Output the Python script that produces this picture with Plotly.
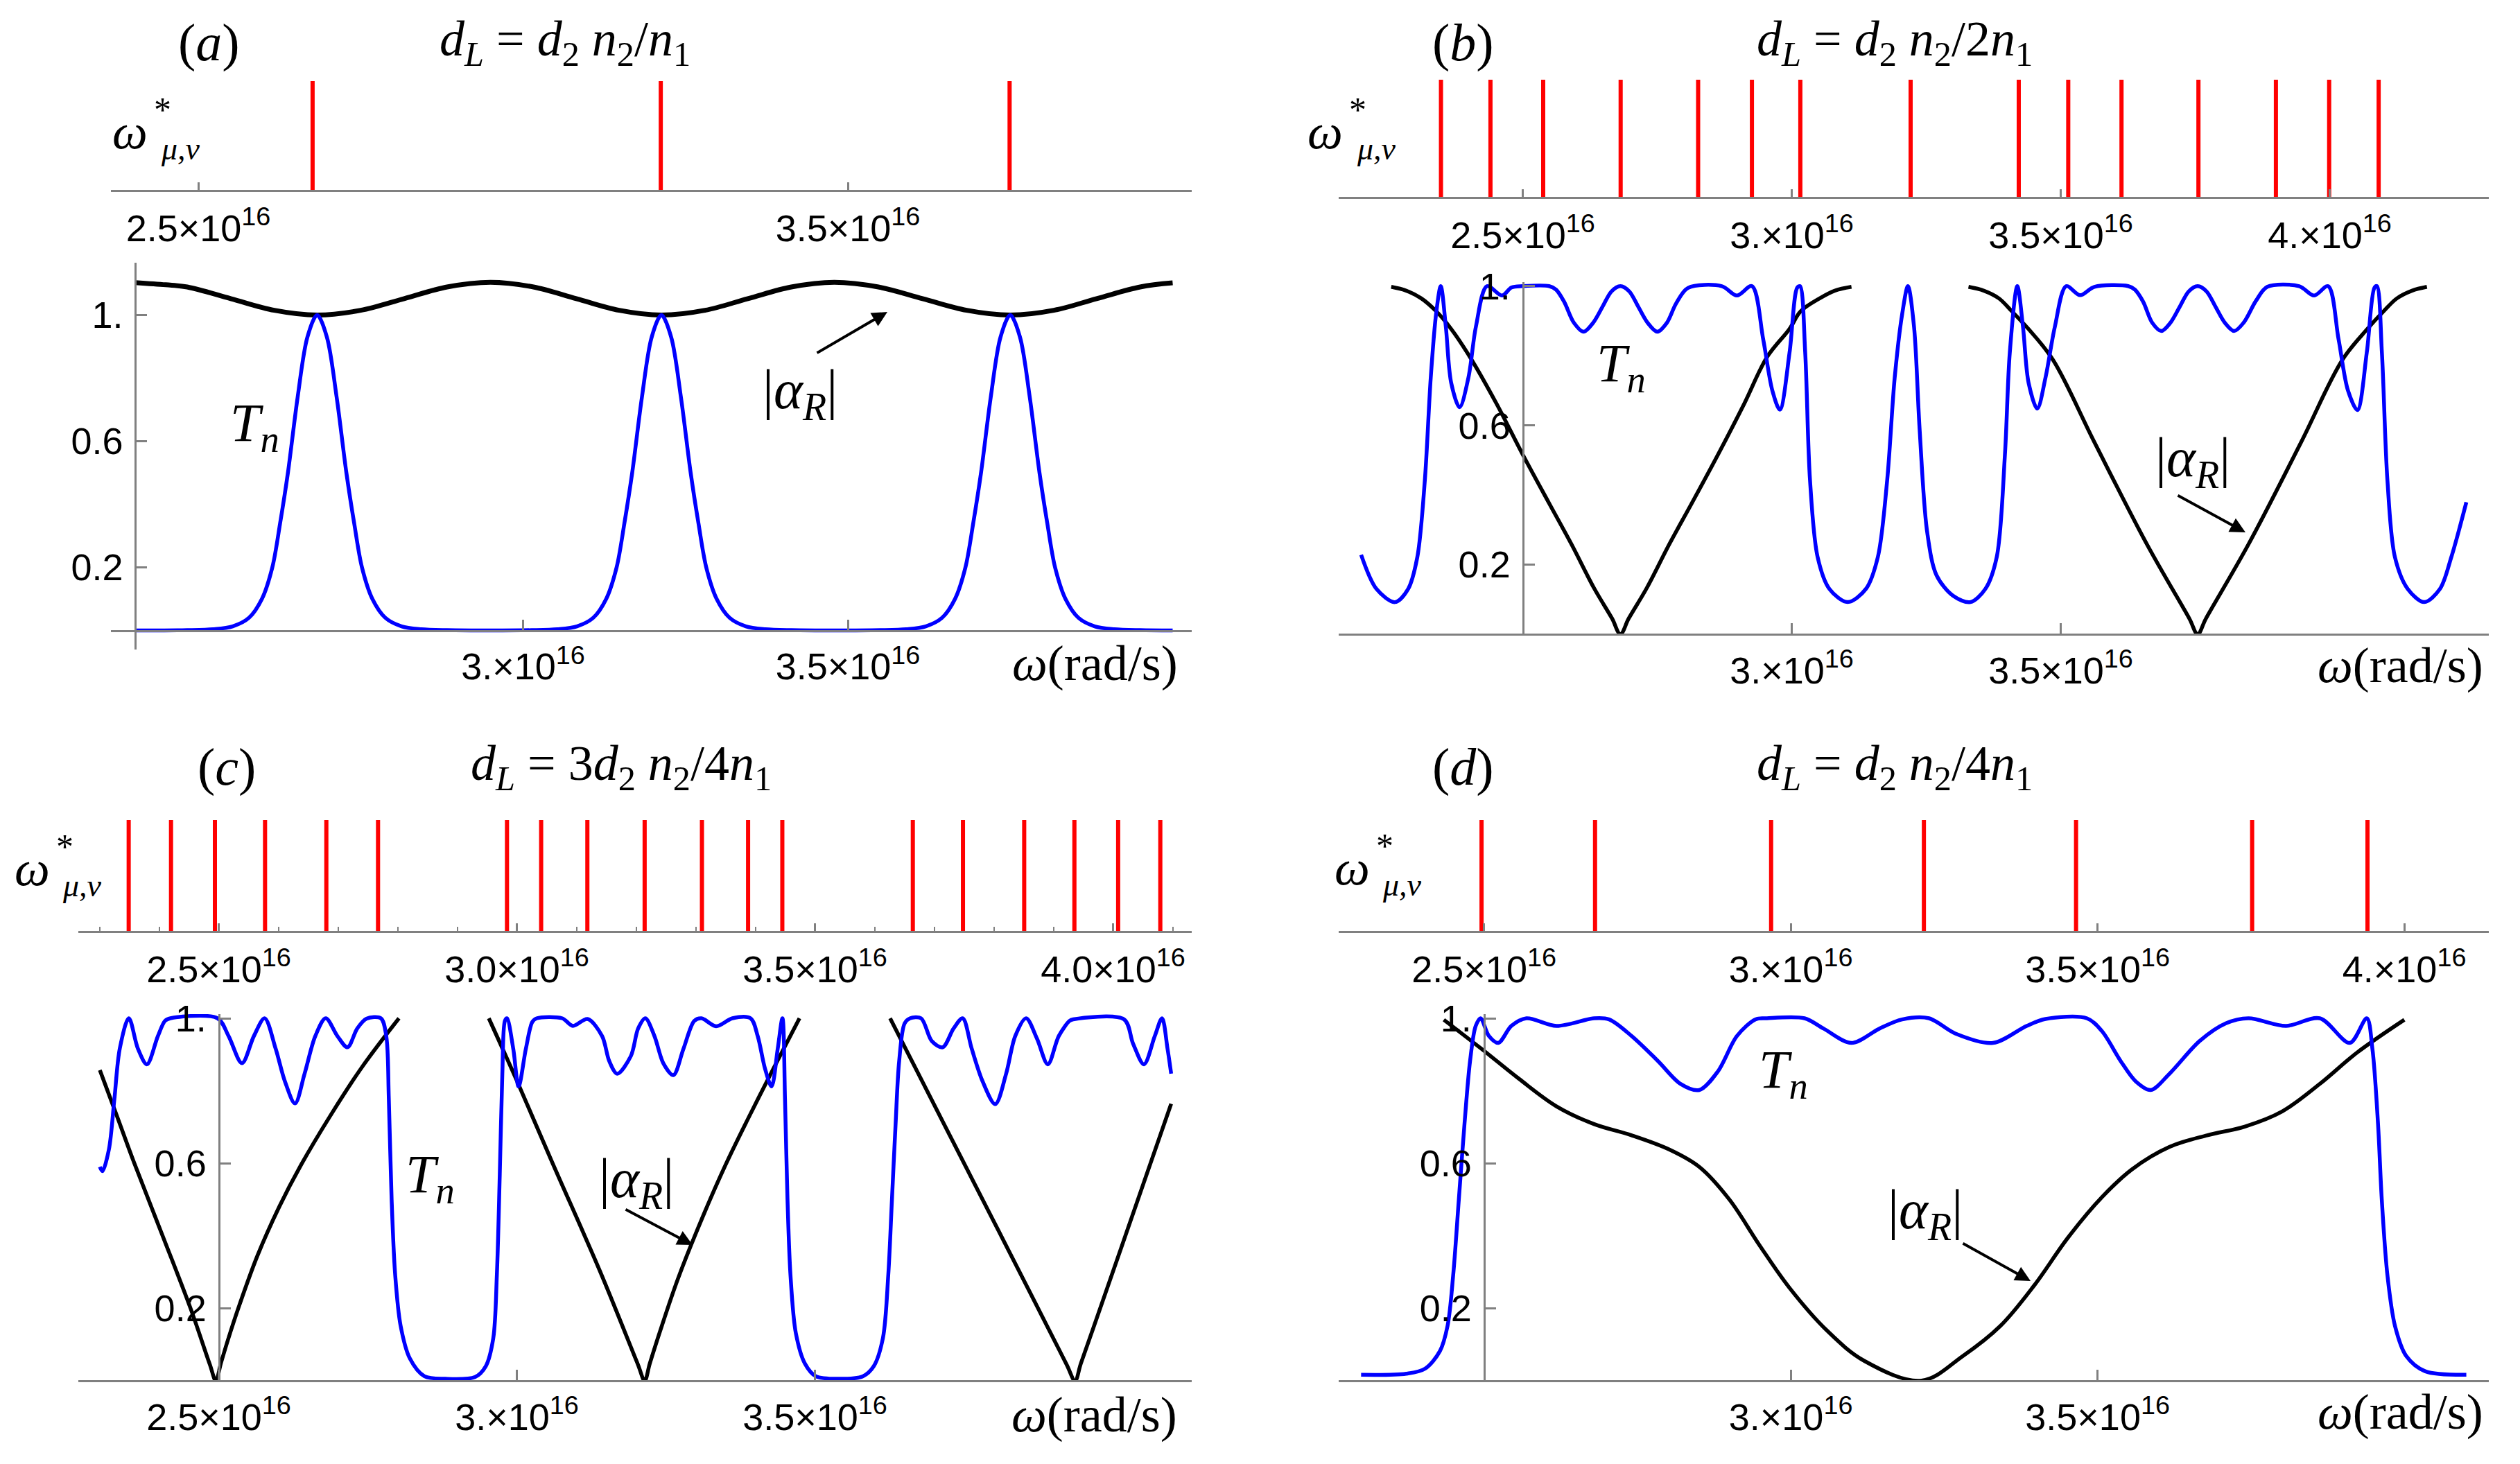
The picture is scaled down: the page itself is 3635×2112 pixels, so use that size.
import plotly.graph_objects as go

# ---------------- data (omega in units of 1e16 rad/s) ----------------
# panel (a)  d_L = d2 n2/n1
A_red = [2.676, 3.212, 3.749]
A_blue_x = [2.403, 2.44, 2.483, 2.523, 2.553, 2.578, 2.598, 2.614, 2.626, 2.638, 2.653, 2.668, 2.683,
            2.698, 2.713, 2.728, 2.740, 2.752, 2.768, 2.788, 2.813, 2.843, 2.883, 2.95,
            3.013, 3.053, 3.083, 3.108, 3.128, 3.144, 3.156, 3.168, 3.183, 3.198, 3.213,
            3.228, 3.243, 3.258, 3.270, 3.282, 3.298, 3.318, 3.343, 3.373, 3.413, 3.48,
            3.550, 3.590, 3.620, 3.645, 3.665, 3.681, 3.693, 3.705, 3.720, 3.735, 3.750,
            3.765, 3.780, 3.795, 3.807, 3.819, 3.835, 3.855, 3.880, 3.910, 3.950, 4.0]
A_blue_y = [0.0, 0.0, 0.001, 0.004, 0.013, 0.04, 0.1, 0.2, 0.34, 0.5, 0.74, 0.93, 1.0,
            0.93, 0.74, 0.5, 0.34, 0.2, 0.1, 0.04, 0.013, 0.004, 0.001, 0.0,
            0.001, 0.004, 0.013, 0.04, 0.1, 0.2, 0.34, 0.5, 0.74, 0.93, 1.0,
            0.93, 0.74, 0.5, 0.34, 0.2, 0.1, 0.04, 0.013, 0.004, 0.001, 0.0,
            0.001, 0.004, 0.013, 0.04, 0.1, 0.2, 0.34, 0.5, 0.74, 0.93, 1.0,
            0.93, 0.74, 0.5, 0.34, 0.2, 0.1, 0.04, 0.013, 0.004, 0.001, 0.0]
A_black_x = [2.403, 2.45, 2.483, 2.55, 2.617, 2.683, 2.75, 2.817, 2.883, 2.950, 3.016, 3.082, 3.148,
             3.213, 3.28, 3.346, 3.413, 3.479, 3.547, 3.615, 3.683, 3.750, 3.817, 3.883, 3.95, 4.0]
A_black_y = [1.103, 1.096, 1.089, 1.052, 1.015, 1.0, 1.015, 1.052, 1.089, 1.104, 1.089, 1.052, 1.015,
             1.0, 1.015, 1.052, 1.089, 1.104, 1.089, 1.052, 1.015, 1.0, 1.015, 1.052, 1.089, 1.102]

# panel (b)  d_L = d2 n2/2n1
B_red = [2.348, 2.440, 2.538, 2.682, 2.826, 2.926, 3.016, 3.221, 3.422, 3.514, 3.613, 3.756, 3.900, 3.999, 4.091]
B_blue_x = [2.1996, 2.228, 2.2624, 2.287, 2.304, 2.318, 2.329, 2.339, 2.3476, 2.357, 2.367, 2.3826, 2.399,
            2.413, 2.4336, 2.4615, 2.479, 2.500, 2.549, 2.562, 2.577, 2.595, 2.613, 2.631, 2.648, 2.665,
            2.6815, 2.698, 2.715, 2.732, 2.750, 2.768, 2.785, 2.8072, 2.870, 2.898, 2.926, 2.947, 2.964,
            2.978, 2.996, 3.010, 3.0154, 3.025, 3.034, 3.0482, 3.070, 3.104, 3.138, 3.160, 3.1774, 3.1914,
            3.2054, 3.216,
            3.2273, 3.2377, 3.2517, 3.2692, 3.30, 3.332, 3.36, 3.381, 3.3963, 3.4054, 3.4193, 3.4298,
            3.4403, 3.4564, 3.4717, 3.4892, 3.5102, 3.536, 3.5625, 3.6254, 3.638, 3.6533, 3.670, 3.687,
            3.704, 3.721, 3.738, 3.7546, 3.771, 3.788, 3.805, 3.8224, 3.840, 3.863, 3.884, 3.9432, 3.971,
            3.997, 4.0165, 4.034, 4.0515, 4.069, 4.083, 4.0878, 4.097, 4.1073, 4.1213, 4.145, 4.1758,
            4.205, 4.226, 4.254]
B_blue_y = [0.228, 0.13, 0.092, 0.13, 0.221, 0.442, 0.737, 0.921, 1.0, 0.884, 0.722, 0.652, 0.737,
            0.884, 1.0, 0.973, 0.996, 1.0, 1.0, 0.99, 0.955, 0.895, 0.869, 0.895, 0.94, 0.985,
            1.0, 0.985, 0.94, 0.895, 0.869, 0.895, 0.95, 0.995, 1.0, 0.973, 1.0, 0.847, 0.70,
            0.645, 0.81, 0.995, 1.0, 0.81, 0.442, 0.221, 0.13, 0.092, 0.13, 0.221, 0.442, 0.737,
            0.921, 1.0,
            0.884, 0.589, 0.294, 0.169, 0.11, 0.092, 0.13, 0.221, 0.516, 0.81, 1.0, 0.884,
            0.722, 0.648, 0.737, 0.884, 1.0, 0.974, 0.998, 1.0, 0.99, 0.955, 0.895, 0.871,
            0.895, 0.94, 0.985, 1.0, 0.985, 0.94, 0.895, 0.871, 0.895, 0.958, 0.998, 1.0, 0.973,
            1.0, 0.847, 0.70, 0.644, 0.81, 0.995, 1.0, 0.81, 0.442, 0.221, 0.13, 0.092,
            0.13, 0.221, 0.379]
B_black_x = [2.2555, 2.2834, 2.3113, 2.339, 2.367, 2.402, 2.451, 2.5, 2.549, 2.5907, 2.6326, 2.666, 2.6815,
             2.697, 2.7304, 2.7723, 2.8142, 2.863, 2.912, 2.954, 2.9958, 3.0168, 3.052, 3.08, 3.111, None,
             3.3286, 3.357, 3.385, 3.409, 3.44, 3.4857, 3.5625, 3.6603, 3.739, 3.7546, 3.770, 3.849, 3.947,
             4.0235, 4.07, 4.1004, 4.125, 4.153, 4.1807]
B_black_y = [0.998, 0.987, 0.965, 0.928, 0.877, 0.796, 0.663, 0.516, 0.376, 0.258, 0.132, 0.045, 0.0,
             0.045, 0.132, 0.258, 0.376, 0.516, 0.663, 0.796, 0.877, 0.928, 0.965, 0.987, 0.998, None,
             0.998, 0.987, 0.965, 0.928, 0.877, 0.788, 0.552, 0.258, 0.045, 0.0, 0.045, 0.258, 0.552,
             0.788, 0.877, 0.928, 0.965, 0.987, 0.998]

# panel (c)  d_L = 3 d2 n2/4n1
C_red = [2.349, 2.420, 2.4936, 2.5777, 2.6805, 2.7672, 2.9835, 3.0408, 3.1183, 3.2144, 3.3105,
         3.3879, 3.4453, 3.6642, 3.7483, 3.8510, 3.9352, 4.0086, 4.0793]
C_blue_x = [2.3006, 2.305, 2.3158, 2.325, 2.334, 2.3492, 2.3645, 2.3796, 2.398, 2.41, 2.419, 2.498,
            2.5165, 2.539, 2.559, 2.577, 2.5955, 2.611, 2.628, 2.644, 2.662, 2.6795, 2.699, 2.716,
            2.7324, 2.748, 2.772, 2.781, 2.7853, 2.790, 2.796, 2.805, 2.8206, 2.845, 2.88, 2.93,
            2.948, 2.9605, 2.9665, 2.9714, 2.9757, 2.98, 2.9835, 2.994, 3.003, 3.0152, 3.026, 3.0335,
            3.076, 3.094, 3.1186, 3.143, 3.155, 3.1685, 3.1913, 3.2035, 3.2156, 3.2308, 3.246, 3.2625,
            3.2795, 3.2977, 3.3099, 3.3342, 3.3616, 3.392, 3.404, 3.4163, 3.4273, 3.4376, 3.4455,
            3.4498, 3.454, 3.459, 3.468, 3.4832, 3.5015, 3.54, 3.5805, 3.5988, 3.614, 3.623, 3.6292,
            3.6353, 3.6413, 3.6505, 3.6596, 3.678, 3.696, 3.7143, 3.7326, 3.7478, 3.763, 3.7812,
            3.8025, 3.8207, 3.836, 3.8542, 3.8724, 3.8907, 3.909, 3.9272, 3.9333, 4.0184, 4.0336,
            4.0519, 4.0701, 4.0822, 4.0914, 4.0975]
C_blue_y = [0.59, 0.578, 0.638, 0.777, 0.916, 1.0, 0.916, 0.873, 0.951, 0.993, 1.0, 1.0,
            0.951, 0.876, 0.951, 1.0, 0.916, 0.826, 0.765, 0.847, 0.951, 1.0, 0.951, 0.92,
            0.972, 0.999, 1.0, 0.951, 0.777, 0.5, 0.291, 0.152, 0.061, 0.012, 0.005, 0.01,
            0.04, 0.117, 0.291, 0.569, 0.847, 0.993, 1.0, 0.916, 0.812, 0.916, 0.99, 1.0,
            1.0, 0.979, 0.998, 0.951, 0.882, 0.847, 0.896, 0.972, 1.0, 0.951, 0.875, 0.843,
            0.916, 0.993, 1.0, 0.978, 1.0, 1.0, 0.951, 0.861, 0.812, 0.916, 1.0,
            0.777, 0.5, 0.291, 0.131, 0.047, 0.012, 0.005, 0.012, 0.04, 0.117, 0.291, 0.5,
            0.708, 0.882, 0.986, 1.0, 1.0, 0.937, 0.92, 0.972, 1.0, 0.916, 0.826,
            0.763, 0.847, 0.951, 1.0, 0.944, 0.873, 0.951, 0.993, 0.997, 0.997, 0.93,
            0.873, 0.951, 1.0, 0.916, 0.847]
C_black_x = [2.3006, 2.328, 2.3584, 2.407, 2.4526, 2.485, 2.4952, 2.5035, 2.515, 2.535, 2.565, 2.6016,
             2.638, 2.6868, 2.7415, 2.8023, None,
             2.953, 3.0, 3.06, 3.14, 3.203, 3.2144, 3.223, 3.24, 3.27, 3.31, 3.35, 3.39, 3.43, 3.4741, None,
             3.6261, 3.6778, 3.7386, 3.7995, 3.8603, 3.922, 3.9363, 3.946, 3.9758, 4.0123, 4.0549, 4.0975]
C_black_y = [0.857, 0.736, 0.6, 0.395, 0.2, 0.045, 0.0, 0.047, 0.11, 0.21, 0.345, 0.48,
             0.595, 0.73, 0.868, 1.0, None,
             1.0, 0.828, 0.6, 0.3, 0.045, 0.0, 0.047, 0.135, 0.28, 0.445, 0.595, 0.73, 0.86, 1.0, None,
             1.0, 0.833, 0.637, 0.441, 0.245, 0.045, 0.0, 0.047, 0.187, 0.36, 0.562, 0.764]

# panel (d)  d_L = d2 n2/4n1
D_red = [2.496, 2.681, 2.968, 3.217, 3.465, 3.752, 3.940]
D_blue_x = [2.2997, 2.3732, 2.4039, 2.4283, 2.4406, 2.4498, 2.459, 2.4682, 2.4773, 2.4865, 2.4945,
            2.508, 2.5233, 2.5447, 2.5692, 2.6182, 2.6794, 2.704, 2.7407, 2.7836, 2.8203, 2.8509,
            2.8815, 2.9122, 2.9428, 2.9612, 3.0224, 3.0531, 3.0989, 3.1449, 3.1816, 3.2253, 3.2682,
            3.3295, 3.3846, 3.4152, 3.4826, 3.507, 3.5377, 3.5622, 3.5867, 3.6173, 3.6663, 3.7092,
            3.746, 3.8072, 3.8623, 3.9113, 3.9388, 3.948, 3.9572, 3.9633, 3.9725, 3.9848, 4.0031,
            4.0338, 4.1011]
D_blue_y = [0.016, 0.019, 0.033, 0.082, 0.151, 0.291, 0.5, 0.708, 0.882, 0.979, 1.0,
            0.951, 0.932, 0.979, 1.0, 0.979, 1.0, 0.997, 0.951, 0.882, 0.819, 0.802,
            0.854, 0.951, 0.997, 1.0, 1.0, 0.972, 0.932, 0.972, 0.997, 1.0, 0.958,
            0.932, 0.979, 0.998, 1.0, 0.965, 0.882, 0.826, 0.802, 0.847, 0.937, 0.986,
            1.0, 0.979, 1.0, 0.932, 1.0, 0.916, 0.708, 0.5, 0.291, 0.151, 0.068,
            0.026, 0.016]
D_black_x = [2.4345, 2.4957, 2.557, 2.6182, 2.6794, 2.7407, 2.8019, 2.8509, 2.8999, 2.9489, 2.9979,
             3.0591, 3.1204, 3.2131, 3.2805, 3.3417, 3.3969, 3.452, 3.5071, 3.5561, 3.6173, 3.6786,
             3.7398, 3.8010, 3.8623, 3.9235, 4.0001]
D_black_y = [0.996, 0.916, 0.833, 0.757, 0.708, 0.677, 0.638, 0.59, 0.5, 0.374, 0.256,
             0.138, 0.054, 0.0, 0.068, 0.151, 0.263, 0.395, 0.506, 0.583, 0.645, 0.677,
             0.701, 0.743, 0.819, 0.906, 0.996]

# tick values / labels
A_top_ticks, A_top_text = [2.5, 3.5], ["2.5×10<sup>16</sup>", "3.5×10<sup>16</sup>"]
A_bot_ticks, A_bot_text = [3.0, 3.5], ["3.×10<sup>16</sup>", "3.5×10<sup>16</sup>"]
B_top_ticks, B_top_text = [2.5, 3.0, 3.5, 4.0], ["2.5×10<sup>16</sup>", "3.×10<sup>16</sup>", "3.5×10<sup>16</sup>", "4.×10<sup>16</sup>"]
B_bot_ticks, B_bot_text = [3.0, 3.5], ["3.×10<sup>16</sup>", "3.5×10<sup>16</sup>"]
C_top_ticks, C_top_text = [2.5, 3.0, 3.5, 4.0], ["2.5×10<sup>16</sup>", "3.0×10<sup>16</sup>", "3.5×10<sup>16</sup>", "4.0×10<sup>16</sup>"]
C_top_minor = [2.3, 2.4, 2.6, 2.7, 2.8, 2.9, 3.1, 3.2, 3.3, 3.4, 3.6, 3.7, 3.8, 3.9, 4.1]
C_bot_ticks, C_bot_text = [2.5, 3.0, 3.5], ["2.5×10<sup>16</sup>", "3.×10<sup>16</sup>", "3.5×10<sup>16</sup>"]
D_top_ticks, D_top_text = [2.5, 3.0, 3.5, 4.0], ["2.5×10<sup>16</sup>", "3.×10<sup>16</sup>", "3.5×10<sup>16</sup>", "4.×10<sup>16</sup>"]
D_bot_ticks, D_bot_text = [3.0, 3.5], ["3.×10<sup>16</sup>", "3.5×10<sup>16</sup>"]
Y_ticks, Y_text = [0.2, 0.6, 1.0], ["0.2", "0.6", "1."]

titles = {
    'a': "<i>d</i><sub><i>L</i></sub> = <i>d</i><sub>2</sub> <i>n</i><sub>2</sub>/<i>n</i><sub>1</sub>",
    'b': "<i>d</i><sub><i>L</i></sub> = <i>d</i><sub>2</sub> <i>n</i><sub>2</sub>/2<i>n</i><sub>1</sub>",
    'c': "<i>d</i><sub><i>L</i></sub> = 3<i>d</i><sub>2</sub> <i>n</i><sub>2</sub>/4<i>n</i><sub>1</sub>",
    'd': "<i>d</i><sub><i>L</i></sub> = <i>d</i><sub>2</sub> <i>n</i><sub>2</sub>/4<i>n</i><sub>1</sub>",
}

# ---------------- layout geometry (pixels of the 3635x2112 page) ----------------
W, H = 3635, 2112
def PX(x): return x / W
def PY(y): return 1 - y / H

GRAY = "#808080"
TICKFONT = dict(family="Liberation Sans, Arial, sans-serif", size=54, color="black")
SERIF = "Liberation Serif, DejaVu Serif, serif"

panels = [
    dict(key='a', red=A_red, bx=A_blue_x, by=A_blue_y, kx=A_black_x, ky=A_black_y, kw=7,
         p25=286, ppu=937, left=160, right=1719, y0=909.5, ypu=455, ytop=379, ybot=937, yax=195.3,
         sbot=274, stop=117, tt=A_top_ticks, ttx=A_top_text, bt=A_bot_ticks, btx=A_bot_text, minor=None,
         lab=(301, 61), title=(815, 61), om=(187, 190), star=(234, 158), sub=(260, 214),
         Tn=(367, 615), aR=(1154, 568), arrow=((1177, 510), (1280, 450)), wl=(1579, 957)),
    dict(key='b', red=B_red, bx=B_blue_x, by=B_blue_y, kx=B_black_x, ky=B_black_y, kw=5.5,
         p25=2196.5, ppu=776, left=1931, right=3590, y0=914.8, ypu=502, ytop=407, ybot=914.8, yax=2196.5,
         sbot=284, stop=115, tt=B_top_ticks, ttx=B_top_text, bt=B_bot_ticks, btx=B_bot_text, minor=None,
         lab=(2110, 61), title=(2733, 61), om=(1912, 190), star=(1959, 158), sub=(1985, 214),
         Tn=(2338, 529), aR=(3163, 666), arrow=((3140, 714), (3239, 768)), wl=(3462, 960)),
    dict(key='c', red=C_red, bx=C_blue_x, by=C_blue_y, kx=C_black_x, ky=C_black_y, kw=5.5,
         p25=315.5, ppu=860, left=112.5, right=1718.5, y0=1991.7, ypu=522.7, ytop=1463, ybot=1991.7, yax=315.5,
         sbot=1343, stop=1183, tt=C_top_ticks, ttx=C_top_text, bt=C_bot_ticks, btx=C_bot_text, minor=C_top_minor,
         lab=(327, 1106), title=(896, 1106), om=(46, 1253), star=(93, 1221), sub=(119, 1277),
         Tn=(620, 1699), aR=(918, 1706), arrow=((901, 1744), (999, 1796)), wl=(1578, 2041)),
    dict(key='d', red=D_red, bx=D_blue_x, by=D_blue_y, kx=D_black_x, ky=D_black_y, kw=5.5,
         p25=2140.6, ppu=885, left=1931, right=3590, y0=1991.7, ypu=522.7, ytop=1463, ybot=1991.7, yax=2140.6,
         sbot=1343, stop=1183, tt=D_top_ticks, ttx=D_top_text, bt=D_bot_ticks, btx=D_bot_text, minor=None,
         lab=(2110, 1106), title=(2733, 1106), om=(1950, 1252), star=(1997, 1220), sub=(2023, 1276),
         Tn=(2572, 1548), aR=(2777, 1751), arrow=((2830, 1793), (2929, 1848)), wl=(3462, 2037)),
]

fig = go.Figure()
layout = dict(width=W, height=H, margin=dict(l=0, r=0, t=0, b=0, pad=0, autoexpand=False), autosize=False,
              paper_bgcolor="white", plot_bgcolor="rgba(0,0,0,0)", showlegend=False)
annotations = []

for i, p in enumerate(panels):
    nm = 2 * i + 1          # main axes number
    ns = 2 * i + 2          # strip axes number
    xr = [2.5 + (p['left'] - p['p25']) / p['ppu'], 2.5 + (p['right'] - p['p25']) / p['ppu']]
    yr = [(p['y0'] - p['ybot']) / p['ypu'], (p['y0'] - p['ytop']) / p['ypu']]
    xdom = [PX(p['left']), PX(p['right'])]
    xa_m = 'xaxis' if nm == 1 else f'xaxis{nm}'
    ya_m = 'yaxis' if nm == 1 else f'yaxis{nm}'
    xa_s, ya_s = f'xaxis{ns}', f'yaxis{ns}'
    xr_m = 'x' if nm == 1 else f'x{nm}'
    yr_m = 'y' if nm == 1 else f'y{nm}'

    layout[xa_m] = dict(domain=xdom, range=xr, anchor='free', position=PY(p['y0']), automargin=False,
                        showline=True, linecolor=GRAY, linewidth=3, showgrid=False, zeroline=False,
                        ticks='inside', ticklen=15, tickwidth=2.5, tickcolor=GRAY,
                        tickmode='array', tickvals=p['bt'], ticktext=p['btx'], tickfont=TICKFONT,
                        ticklabelstandoff=4)
    layout[ya_m] = dict(domain=[PY(p['ybot']), PY(p['ytop'])], range=yr, anchor='free', automargin=False,
                        position=PX(p['yax']), showline=True, linecolor=GRAY, linewidth=3,
                        showgrid=False, zeroline=False, ticks='inside', ticklen=15, tickwidth=2.5,
                        tickcolor=GRAY, tickmode='array', tickvals=Y_ticks, ticktext=Y_text,
                        tickfont=TICKFONT, ticklabelstandoff=6)
    sx = dict(domain=xdom, range=xr, anchor=f'y{ns}', showline=True, linecolor=GRAY, linewidth=3,
              showgrid=False, zeroline=False, ticks='inside', ticklen=11, tickwidth=2.5, tickcolor=GRAY,
              tickmode='array', tickvals=p['tt'], ticktext=p['ttx'], tickfont=TICKFONT,
              ticklabelstandoff=6, automargin=False)
    if p['minor']:
        sx['minor'] = dict(tickmode='array', tickvals=p['minor'], ticks='inside', ticklen=6,
                           tickwidth=2, tickcolor=GRAY, showgrid=False)
    layout[xa_s] = sx
    layout[ya_s] = dict(domain=[PY(p['sbot']), PY(p['stop'])], range=[0, 1], visible=False,
                        anchor=f'x{ns}', automargin=False)

    rx, ry = [], []
    for v in p['red']:
        rx += [v, v, None]
        ry += [0, 1, None]
    fig.add_trace(go.Scatter(x=rx, y=ry, mode='lines', line=dict(color='#ff0000', width=6),
                             xaxis=f'x{ns}', yaxis=f'y{ns}', hoverinfo='skip'))
    fig.add_trace(go.Scatter(x=p['kx'], y=p['ky'], mode='lines', connectgaps=False,
                             line=dict(color='black', width=p['kw'], shape='spline', smoothing=1.0),
                             xaxis=xr_m, yaxis=yr_m))
    fig.add_trace(go.Scatter(x=p['bx'], y=p['by'], mode='lines',
                             line=dict(color='#0000ff', width=5.5, shape='spline', smoothing=0.9),
                             xaxis=xr_m, yaxis=yr_m))

    def ann(pos, text, size, **kw):
        d = dict(x=PX(pos[0]), y=PY(pos[1]), xref='paper', yref='paper', text=text, showarrow=False,
                 font=dict(family=SERIF, size=size, color='black'), xanchor='center', yanchor='middle')
        d.update(kw)
        annotations.append(d)

    ann(p['lab'], f"(<i>{p['key']}</i>)", 76)
    ann(p['title'], titles[p['key']], 72)
    ann(p['om'], "<i>ω</i>", 72)
    ann(p['star'], "*", 50)
    ann(p['sub'], "<i>μ,ν</i>", 46)
    ann(p['Tn'], "<i>T<sub>n</sub></i>", 78)
    ann(p['aR'], "|<i>α<sub>R</sub></i>|", 80)
    ann(p['wl'], "<i>ω</i>(rad/s)", 72)
    (tx, ty), (hx, hy) = p['arrow']
    annotations.append(dict(x=PX(hx), y=PY(hy), xref='paper', yref='paper', text='', showarrow=True,
                            ax=tx - hx, ay=ty - hy, axref='pixel', ayref='pixel', arrowhead=2,
                            arrowsize=1.1, arrowwidth=4, arrowcolor='black', standoff=0))

layout['annotations'] = annotations
fig.update_layout(**layout)
fig.write_html("out.html", config={'displayModeBar': False},
               post_script="document.body.style.margin='0';document.body.style.overflow='hidden';")
